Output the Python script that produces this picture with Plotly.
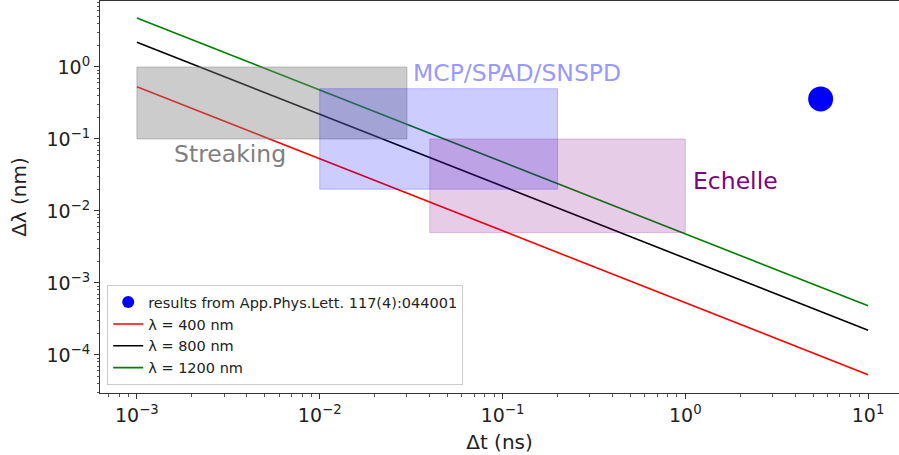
import plotly.graph_objects as go

# ---- data ----
line_x = [1e-3, 1e1]
y_400 = [0.53, 5.3e-5]
y_800 = [2.2, 2.2e-4]
y_1200 = [4.8, 4.8e-4]

dot_x = [5.5]
dot_y = [0.36]

streak_box = dict(x=[1e-3, 3e-2], y=[0.1, 1.0])
mcp_box = dict(x=[1e-2, 2e-1], y=[0.02, 0.5])
echelle_box = dict(x=[4e-2, 1.0], y=[0.005, 0.1])

xtick_vals = [1e-3, 1e-2, 1e-1, 1e0, 1e1]
xtick_text = ["10<sup>−3</sup>", "10<sup>−2</sup>", "10<sup>−1</sup>", "10<sup>0</sup>", "10<sup>1</sup>"]
ytick_vals = [1e-4, 1e-3, 1e-2, 1e-1, 1e0]
ytick_text = ["10<sup>−4</sup>", "10<sup>−3</sup>", "10<sup>−2</sup>", "10<sup>−1</sup>", "10<sup>0</sup>"]

decades = [1e-5, 1e-4, 1e-3, 1e-2, 1e-1, 1e0, 1e1]
minor_vals = [m * d for d in decades for m in range(2, 10)]

FONT = "DejaVu Sans"

fig = go.Figure()

fig.add_trace(go.Scatter(x=dot_x, y=dot_y, mode="markers", showlegend=False,
                         marker=dict(color="#0000ff", size=25), hoverinfo="skip"))
# legend-only entry for the dot (smaller symbol as in the reference legend)
fig.add_trace(go.Scatter(x=[None], y=[None], mode="markers",
                         marker=dict(color="#0000ff", size=12),
                         name="results from App.Phys.Lett. 117(4):044001"))
fig.add_trace(go.Scatter(x=line_x, y=y_400, mode="lines",
                         line=dict(color="#ff0000", width=1.6), name="λ = 400 nm"))
fig.add_trace(go.Scatter(x=line_x, y=y_800, mode="lines",
                         line=dict(color="#000000", width=1.6), name="λ = 800 nm"))
fig.add_trace(go.Scatter(x=line_x, y=y_1200, mode="lines",
                         line=dict(color="#008000", width=1.6), name="λ = 1200 nm"))

def box(b, fill, edge):
    x0, x1 = b["x"]
    y0, y1 = b["y"]
    fig.add_trace(go.Scatter(x=[x0, x1, x1, x0, x0], y=[y0, y0, y1, y1, y0],
                             mode="lines", fill="toself", fillcolor=fill,
                             line=dict(color=edge, width=1), showlegend=False,
                             hoverinfo="skip"))

box(streak_box, "rgba(128,128,128,0.4)", "rgba(128,128,128,0.45)")
box(mcp_box, "rgba(0,0,255,0.2)", "rgba(0,0,255,0.22)")
box(echelle_box, "rgba(128,0,128,0.2)", "rgba(128,0,128,0.22)")

def ann(text, lx, ly, color):
    fig.add_annotation(x=lx, y=ly, xref="x", yref="y", text=text, showarrow=False,
                       xanchor="left", yanchor="middle",
                       font=dict(family=FONT, size=23.5, color=color))

ann("Streaking", -2.81, -1.215, "rgba(128,128,128,1)")
ann("MCP/SPAD/SNSPD", -1.50, -0.09, "rgba(153,153,255,1)")
ann("Echelle", 0.03, -1.59, "#800080")

axis_common = dict(
    type="log", showgrid=False, zeroline=False, automargin=False,
    showline=True, linecolor="#333", linewidth=1,
    ticks="outside", ticklen=5, tickwidth=1, tickcolor="#333",
    tickfont=dict(family=FONT, size=19, color="#222"),
    minor=dict(ticks="outside", ticklen=2.5, tickcolor="#555", showgrid=False,
               tickvals=minor_vals),
)

fig.update_layout(
    width=899, height=455,
    margin=dict(l=100, r=0, t=1, b=62),
    plot_bgcolor="white", paper_bgcolor="white",
    font=dict(family=FONT, color="#222"),
    xaxis=dict(**axis_common, range=[-3.202, 1.169], mirror=True,
               tickvals=xtick_vals, ticktext=xtick_text,
               title=dict(text="Δt (ns)", font=dict(family=FONT, size=20), standoff=10)),
    yaxis=dict(**axis_common, range=[-4.53, 0.917],
               tickvals=ytick_vals, ticktext=ytick_text,
               title=dict(text="Δλ (nm)", font=dict(family=FONT, size=20), standoff=14)),
    legend=dict(x=0.009, y=0.02, xanchor="left", yanchor="bottom",
                bgcolor="rgba(255,255,255,0.8)", bordercolor="#cccccc", borderwidth=1,
                font=dict(family=FONT, size=14.5, color="#222"),
                tracegroupgap=1, itemwidth=30),
    showlegend=True,
)

fig.write_html("out.html", config={"displayModeBar": False},
               post_script="document.body.style.margin='0';")
